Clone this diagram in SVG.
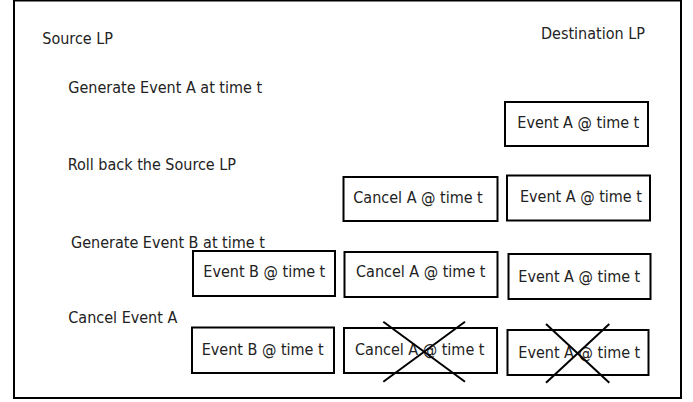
<svg xmlns="http://www.w3.org/2000/svg" width="693" height="402" viewBox="0 0 693 402">
<style>
text{font-family:"DejaVu Sans Condensed","DejaVu Sans",sans-serif;font-stretch:condensed;font-size:16px;fill:#222}
.box{fill:#fff;stroke:#000;stroke-width:2}
.x{stroke:#000;stroke-width:2;fill:none}
</style>
<rect x="0" y="0" width="693" height="402" fill="#fff"/>
<rect x="14" y="0.5" width="667" height="397.5" fill="none" stroke="#000" stroke-width="2"/>
<g id="labels">
<text x="42.3" y="44.3">Source LP</text>
<text x="541" y="39.3">Destination LP</text>
<text x="68.3" y="92.7">Generate Event A at time t</text>
<text x="67.7" y="170">Roll back the Source LP</text>
<text x="71" y="247.7">Generate Event B at time t</text>
<text x="68.3" y="323.3">Cancel Event A</text>
</g>
<g id="r1-eventA"><rect class="box" x="505" y="102" width="143" height="44"/><text x="517.3" y="128">Event A @ time t</text></g>
<g id="r2-cancelA"><rect class="box" x="343.5" y="177" width="154" height="44"/><text x="353.3" y="203.3">Cancel A @ time t</text></g>
<g id="r2-eventA"><rect class="box" x="507" y="175.5" width="143" height="45"/><text x="520" y="201.7">Event A @ time t</text></g>
<g id="r3-eventB"><rect class="box" x="193" y="251" width="142" height="45"/><text x="203.3" y="277.3">Event B @ time t</text></g>
<g id="r3-cancelA"><rect class="box" x="344.5" y="252" width="153" height="45"/><text x="356" y="277.3">Cancel A @ time t</text></g>
<g id="r3-eventA"><rect class="box" x="508.5" y="254" width="142" height="45"/><text x="518.3" y="281.7">Event A @ time t</text></g>
<g id="r4-eventB"><rect class="box" x="192" y="327.5" width="142" height="45.5"/><text x="201.7" y="355">Event B @ time t</text></g>
<g id="r4-cancelA"><rect class="box" x="344" y="328" width="153" height="45"/><text x="355" y="355">Cancel A @ time t</text></g>
<g id="r4-eventA"><rect class="box" x="507.5" y="330" width="141" height="45"/><text x="518.3" y="358.3">Event A @ time t</text></g>
<g id="connectors">
<line class="x" x1="383.3" y1="321.7" x2="465" y2="381.7"/>
<line class="x" x1="465" y1="321.7" x2="383.3" y2="381.7"/>
<line class="x" x1="546" y1="324" x2="609.3" y2="382.7"/>
<line class="x" x1="609.3" y1="324" x2="546" y2="382.7"/>
</g>
</svg>
